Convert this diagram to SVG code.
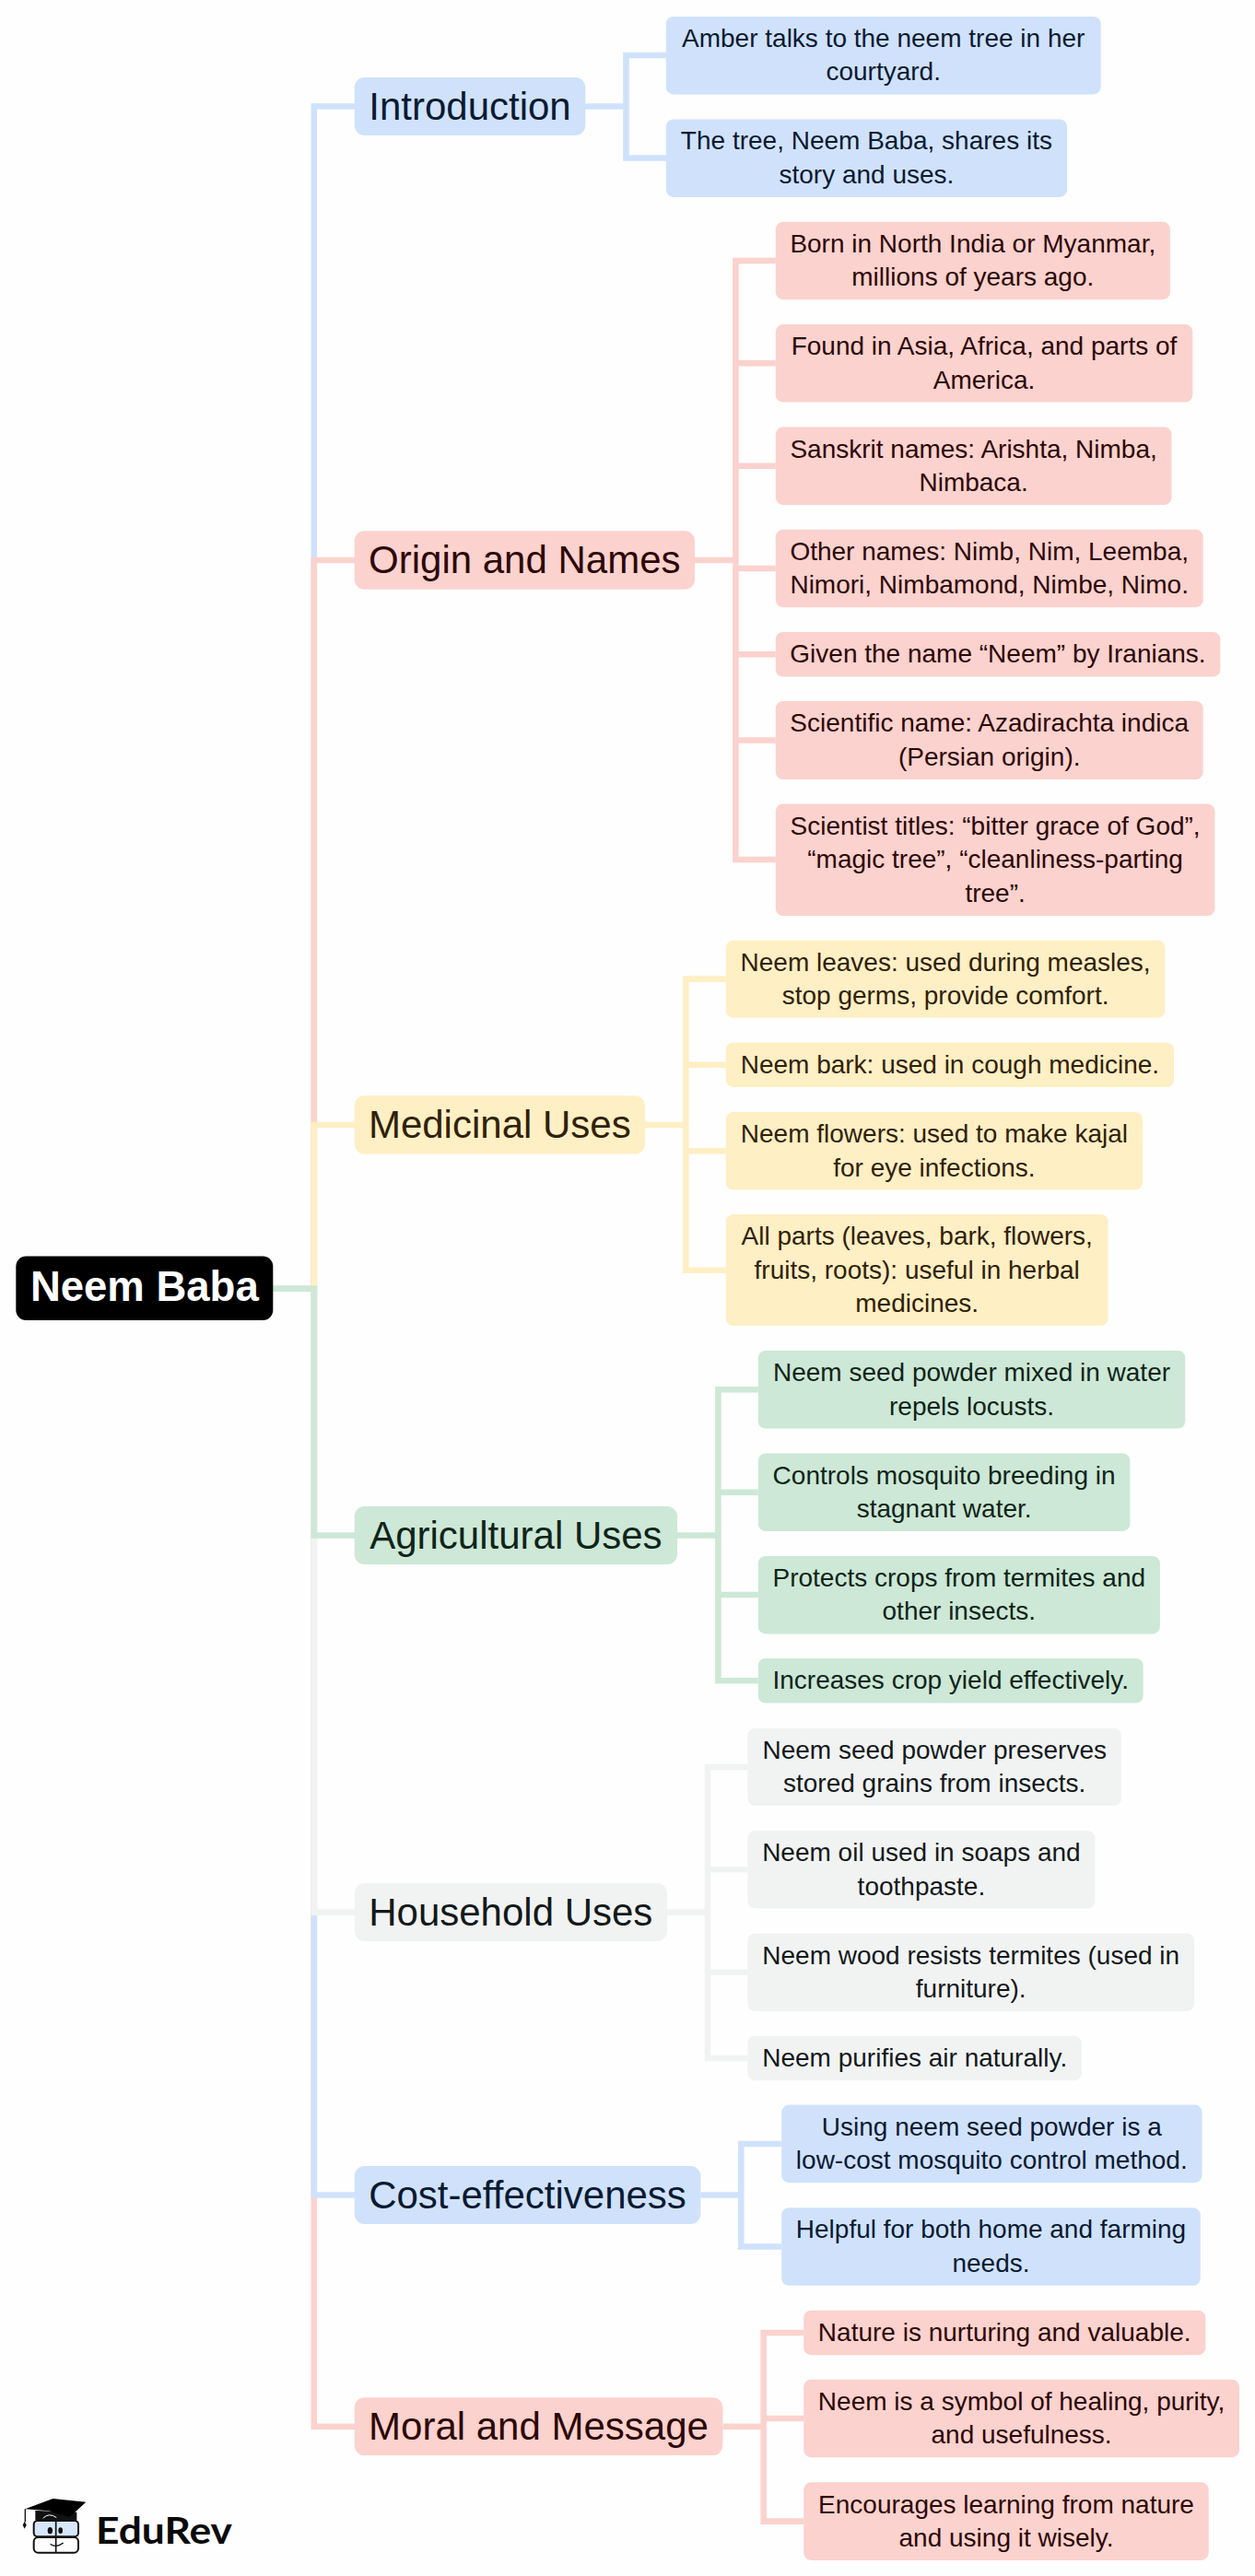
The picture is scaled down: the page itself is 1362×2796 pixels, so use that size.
<svg xmlns="http://www.w3.org/2000/svg" width="1362" height="2796" viewBox="0 0 1362 2796">
<style>
text{font-family:"Liberation Sans",Arial,sans-serif;text-anchor:middle}
.l text{font-size:28px}
.b text{font-size:42px}
.blue rect{fill:#d0e2fb}.blue text{fill:#0a1a33}
.pink rect{fill:#fbd2ce}.pink text{fill:#2d0706}
.yel rect{fill:#ffefc4}.yel text{fill:#302108}
.grn rect{fill:#cde8d6}.grn text{fill:#10241a}
.gry rect{fill:#f1f3f3}.gry text{fill:#14191b}
#connectors path{fill:none;stroke-width:6.6;stroke-linejoin:miter}
.c-blue{stroke:#d0e2fb}.c-pink{stroke:#fbd2ce}.c-yel{stroke:#ffefc4}.c-grn{stroke:#cde8d6}.c-gry{stroke:#f1f3f3}
</style>
<rect width="1362" height="2796" fill="#fefefe"/>
<g id="connectors">
<path class="c-blue" d="M296 1398.7H340.8V115.5H385M635 115.5H679.5M723 60H679.5V171.5H723"/>
<path class="c-pink" d="M296 1398.7H340.8V608H385M754 608H798.4M841.8 283H798.4V933H841.8M798.4 394.3H841.8M798.4 505.7H841.8M798.4 617H841.8M798.4 710.3H841.8M798.4 803.5H841.8"/>
<path class="c-yel" d="M296 1398.7H340.8V1221H385M700 1221H744.3M787.8 1062.6H744.3V1378.7H787.8M744.3 1155.7H787.8M744.3 1249.3H787.8"/>
<path class="c-pink" d="M296 1398.7H340.8V2633.7H385M784.4 2633.7H828.7M872.2 2532H828.7V2736.6H872.2M828.7 2625H872.2"/>
<path class="c-blue" d="M296 1398.7H340.8V2382.5H385M760.4 2382.5H804.2M848.2 2327H804.2V2438.5H848.2"/>
<path class="c-gry" d="M296 1398.7H340.8V2075.6H385M724 2075.6H768M811.4 1917.9H768V2234H811.4M768 2029.2H811.4M768 2140.7H811.4"/>
<path class="c-grn" d="M296 1398.7H340.8V1666.5H385M735 1666.5H779.4M822.8 1508.3H779.4V1824.3H822.8M779.4 1619.7H822.8M779.4 1731H822.8"/>
</g>
<g id="root"><rect x="17.3" y="1363.5" width="279" height="69.5" rx="11" fill="#000"/><text x="156.8" y="1412" font-size="45.5" font-weight="700" fill="#fff">Neem Baba</text></g>

<g id="introduction" class="b blue"><rect x="384.7" y="84" width="250.6" height="63" rx="11"/><text x="510" y="129.5">Introduction</text></g>
<g id="intro-1" class="l blue"><rect x="722.8" y="18" width="471.9" height="84.4" rx="8"/><text x="958.7" y="50.9">Amber talks to the neem tree in her</text><text x="958.7" y="87.3">courtyard.</text></g>
<g id="intro-2" class="l blue"><rect x="722.8" y="129.5" width="435.2" height="84.4" rx="8"/><text x="940.4" y="162.4">The tree, Neem Baba, shares its</text><text x="940.4" y="198.8">story and uses.</text></g>

<g id="origin" class="b pink"><rect x="384.7" y="576.3" width="369.3" height="63.4" rx="11"/><text x="569.3" y="621.6">Origin and Names</text></g>
<g id="origin-1" class="l pink"><rect x="841.8" y="240.8" width="428.1" height="84.4" rx="8"/><text x="1055.8" y="273.9">Born in North India or Myanmar,</text><text x="1055.8" y="310.3">millions of years ago.</text></g>
<g id="origin-2" class="l pink"><rect x="841.8" y="352.1" width="452.5" height="84.4" rx="8"/><text x="1068" y="385.2">Found in Asia, Africa, and parts of</text><text x="1068" y="421.6">America.</text></g>
<g id="origin-3" class="l pink"><rect x="841.8" y="463.5" width="429.7" height="84.4" rx="8"/><text x="1056.6" y="496.6">Sanskrit names: Arishta, Nimba,</text><text x="1056.6" y="533">Nimbaca.</text></g>
<g id="origin-4" class="l pink"><rect x="841.8" y="574.8" width="463.9" height="84.4" rx="8"/><text x="1073.7" y="607.9">Other names: Nimb, Nim, Leemba,</text><text x="1073.7" y="644.3">Nimori, Nimbamond, Nimbe, Nimo.</text></g>
<g id="origin-5" class="l pink"><rect x="841.8" y="686" width="482.5" height="48.5" rx="8"/><text x="1083" y="719.4">Given the name “Neem” by Iranians.</text></g>
<g id="origin-6" class="l pink"><rect x="841.8" y="761" width="463.9" height="85" rx="8"/><text x="1073.7" y="794.4">Scientific name: Azadirachta indica</text><text x="1073.7" y="830.8">(Persian origin).</text></g>
<g id="origin-7" class="l pink"><rect x="841.8" y="872.5" width="476.6" height="121.5" rx="8"/><text x="1080.1" y="905.7">Scientist titles: “bitter grace of God”,</text><text x="1080.1" y="942.1">“magic tree”, “cleanliness-parting</text><text x="1080.1" y="978.5">tree”.</text></g>

<g id="medicinal" class="b yel"><rect x="384.7" y="1189.3" width="315.3" height="63.3" rx="11"/><text x="542.3" y="1234.8">Medicinal Uses</text></g>
<g id="medicinal-1" class="l yel"><rect x="787.8" y="1020.4" width="476.6" height="84.4" rx="8"/><text x="1026.1" y="1053.5">Neem leaves: used during measles,</text><text x="1026.1" y="1089.9">stop germs, provide comfort.</text></g>
<g id="medicinal-2" class="l yel"><rect x="787.8" y="1131.4" width="486.2" height="48.5" rx="8"/><text x="1030.9" y="1164.8">Neem bark: used in cough medicine.</text></g>
<g id="medicinal-3" class="l yel"><rect x="787.8" y="1207" width="452.2" height="84.6" rx="8"/><text x="1013.9" y="1240.2">Neem flowers: used to make kajal</text><text x="1013.9" y="1276.6">for eye infections.</text></g>
<g id="medicinal-4" class="l yel"><rect x="787.8" y="1318" width="414.9" height="121" rx="8"/><text x="995.2" y="1351.4">All parts (leaves, bark, flowers,</text><text x="995.2" y="1387.8">fruits, roots): useful in herbal</text><text x="995.2" y="1424.2">medicines.</text></g>

<g id="agricultural" class="b grn"><rect x="384.7" y="1635" width="350.3" height="63" rx="11"/><text x="559.9" y="1680.5">Agricultural Uses</text></g>
<g id="agricultural-1" class="l grn"><rect x="822.8" y="1466" width="463.5" height="84.6" rx="8"/><text x="1054.5" y="1499.2">Neem seed powder mixed in water</text><text x="1054.5" y="1535.6">repels locusts.</text></g>
<g id="agricultural-2" class="l grn"><rect x="822.8" y="1577.5" width="403.6" height="84.4" rx="8"/><text x="1024.6" y="1610.6">Controls mosquito breeding in</text><text x="1024.6" y="1647">stagnant water.</text></g>
<g id="agricultural-3" class="l grn"><rect x="822.8" y="1689" width="436.1" height="84.4" rx="8"/><text x="1040.8" y="1721.9">Protects crops from termites and</text><text x="1040.8" y="1758.3">other insects.</text></g>
<g id="agricultural-4" class="l grn"><rect x="822.8" y="1800" width="417.9" height="48.5" rx="8"/><text x="1031.7" y="1833.4">Increases crop yield effectively.</text></g>

<g id="household" class="b gry"><rect x="384.7" y="2044" width="339.3" height="63" rx="11"/><text x="554.3" y="2089.5">Household Uses</text></g>
<g id="household-1" class="l gry"><rect x="811.4" y="1875.7" width="405.6" height="84.4" rx="8"/><text x="1014.2" y="1908.8">Neem seed powder preserves</text><text x="1014.2" y="1945.2">stored grains from insects.</text></g>
<g id="household-2" class="l gry"><rect x="811.4" y="1987" width="377" height="84.4" rx="8"/><text x="999.9" y="2020.1">Neem oil used in soaps and</text><text x="999.9" y="2056.5">toothpaste.</text></g>
<g id="household-3" class="l gry"><rect x="811.4" y="2098.4" width="484.6" height="84.6" rx="8"/><text x="1053.7" y="2131.6">Neem wood resists termites (used in</text><text x="1053.7" y="2168">furniture).</text></g>
<g id="household-4" class="l gry"><rect x="811.4" y="2209.7" width="362.6" height="48.5" rx="8"/><text x="992.7" y="2243.1">Neem purifies air naturally.</text></g>

<g id="cost" class="b blue"><rect x="384.7" y="2351" width="375.7" height="63" rx="11"/><text x="572.5" y="2396.5">Cost-effectiveness</text></g>
<g id="cost-1" class="l blue"><rect x="848.2" y="2284.6" width="456.3" height="84.6" rx="8"/><text x="1076.3" y="2317.8">Using neem seed powder is a</text><text x="1076.3" y="2354.2">low-cost mosquito control method.</text></g>
<g id="cost-2" class="l blue"><rect x="848.2" y="2396.2" width="454.6" height="84.6" rx="8"/><text x="1075.5" y="2429.4">Helpful for both home and farming</text><text x="1075.5" y="2465.8">needs.</text></g>

<g id="moral" class="b pink"><rect x="384.7" y="2602.3" width="399.7" height="62.8" rx="11"/><text x="584.5" y="2647.7">Moral and Message</text></g>
<g id="moral-1" class="l pink"><rect x="872.2" y="2507.7" width="436.1" height="48.5" rx="8"/><text x="1090.2" y="2541.1">Nature is nurturing and valuable.</text></g>
<g id="moral-2" class="l pink"><rect x="872.2" y="2582.8" width="472.8" height="84.4" rx="8"/><text x="1108.6" y="2615.9">Neem is a symbol of healing, purity,</text><text x="1108.6" y="2652.3">and usefulness.</text></g>
<g id="moral-3" class="l pink"><rect x="872.2" y="2694.3" width="439.5" height="84.6" rx="8"/><text x="1092" y="2727.5">Encourages learning from nature</text><text x="1092" y="2763.9">and using it wisely.</text></g>

<g id="logo">
<g transform="translate(20 2700) scale(.3333)" stroke-linejoin="round">
<path d="M55 75V106H190V80Z" fill="#111"/>
<path d="M22 70L112 36L220 47L166 97L100 76Z" fill="#000"/>
<path d="M22 70V112" stroke="#111" stroke-width="4" fill="none"/>
<path d="M20 110L26 122L20 134L14 122Z" fill="#111"/>
<path d="M80 100Q100 80 124 98" stroke="#fff" stroke-width="3" fill="none"/>
<rect x="50" y="108" width="145" height="52" rx="12" fill="#d6e6fb" stroke="#111" stroke-width="6"/>
<rect x="50" y="162" width="145" height="50" rx="14" fill="#fff" stroke="#111" stroke-width="6"/>
<path d="M122 100V212" stroke="#111" stroke-width="5" fill="none"/>
<ellipse cx="103" cy="140" rx="8" ry="11" fill="#111"/>
<ellipse cx="137" cy="140" rx="7" ry="10" fill="#111"/>
<path d="M104 184Q122 198 146 180" stroke="#111" stroke-width="4" fill="none"/>
</g>
<text x="178" y="2761" font-size="41" font-weight="700" fill="#0a0a0a" textLength="148" lengthAdjust="spacingAndGlyphs" style="font-family:Lato,'Open Sans',sans-serif">EduRev</text>
</g>
</svg>
